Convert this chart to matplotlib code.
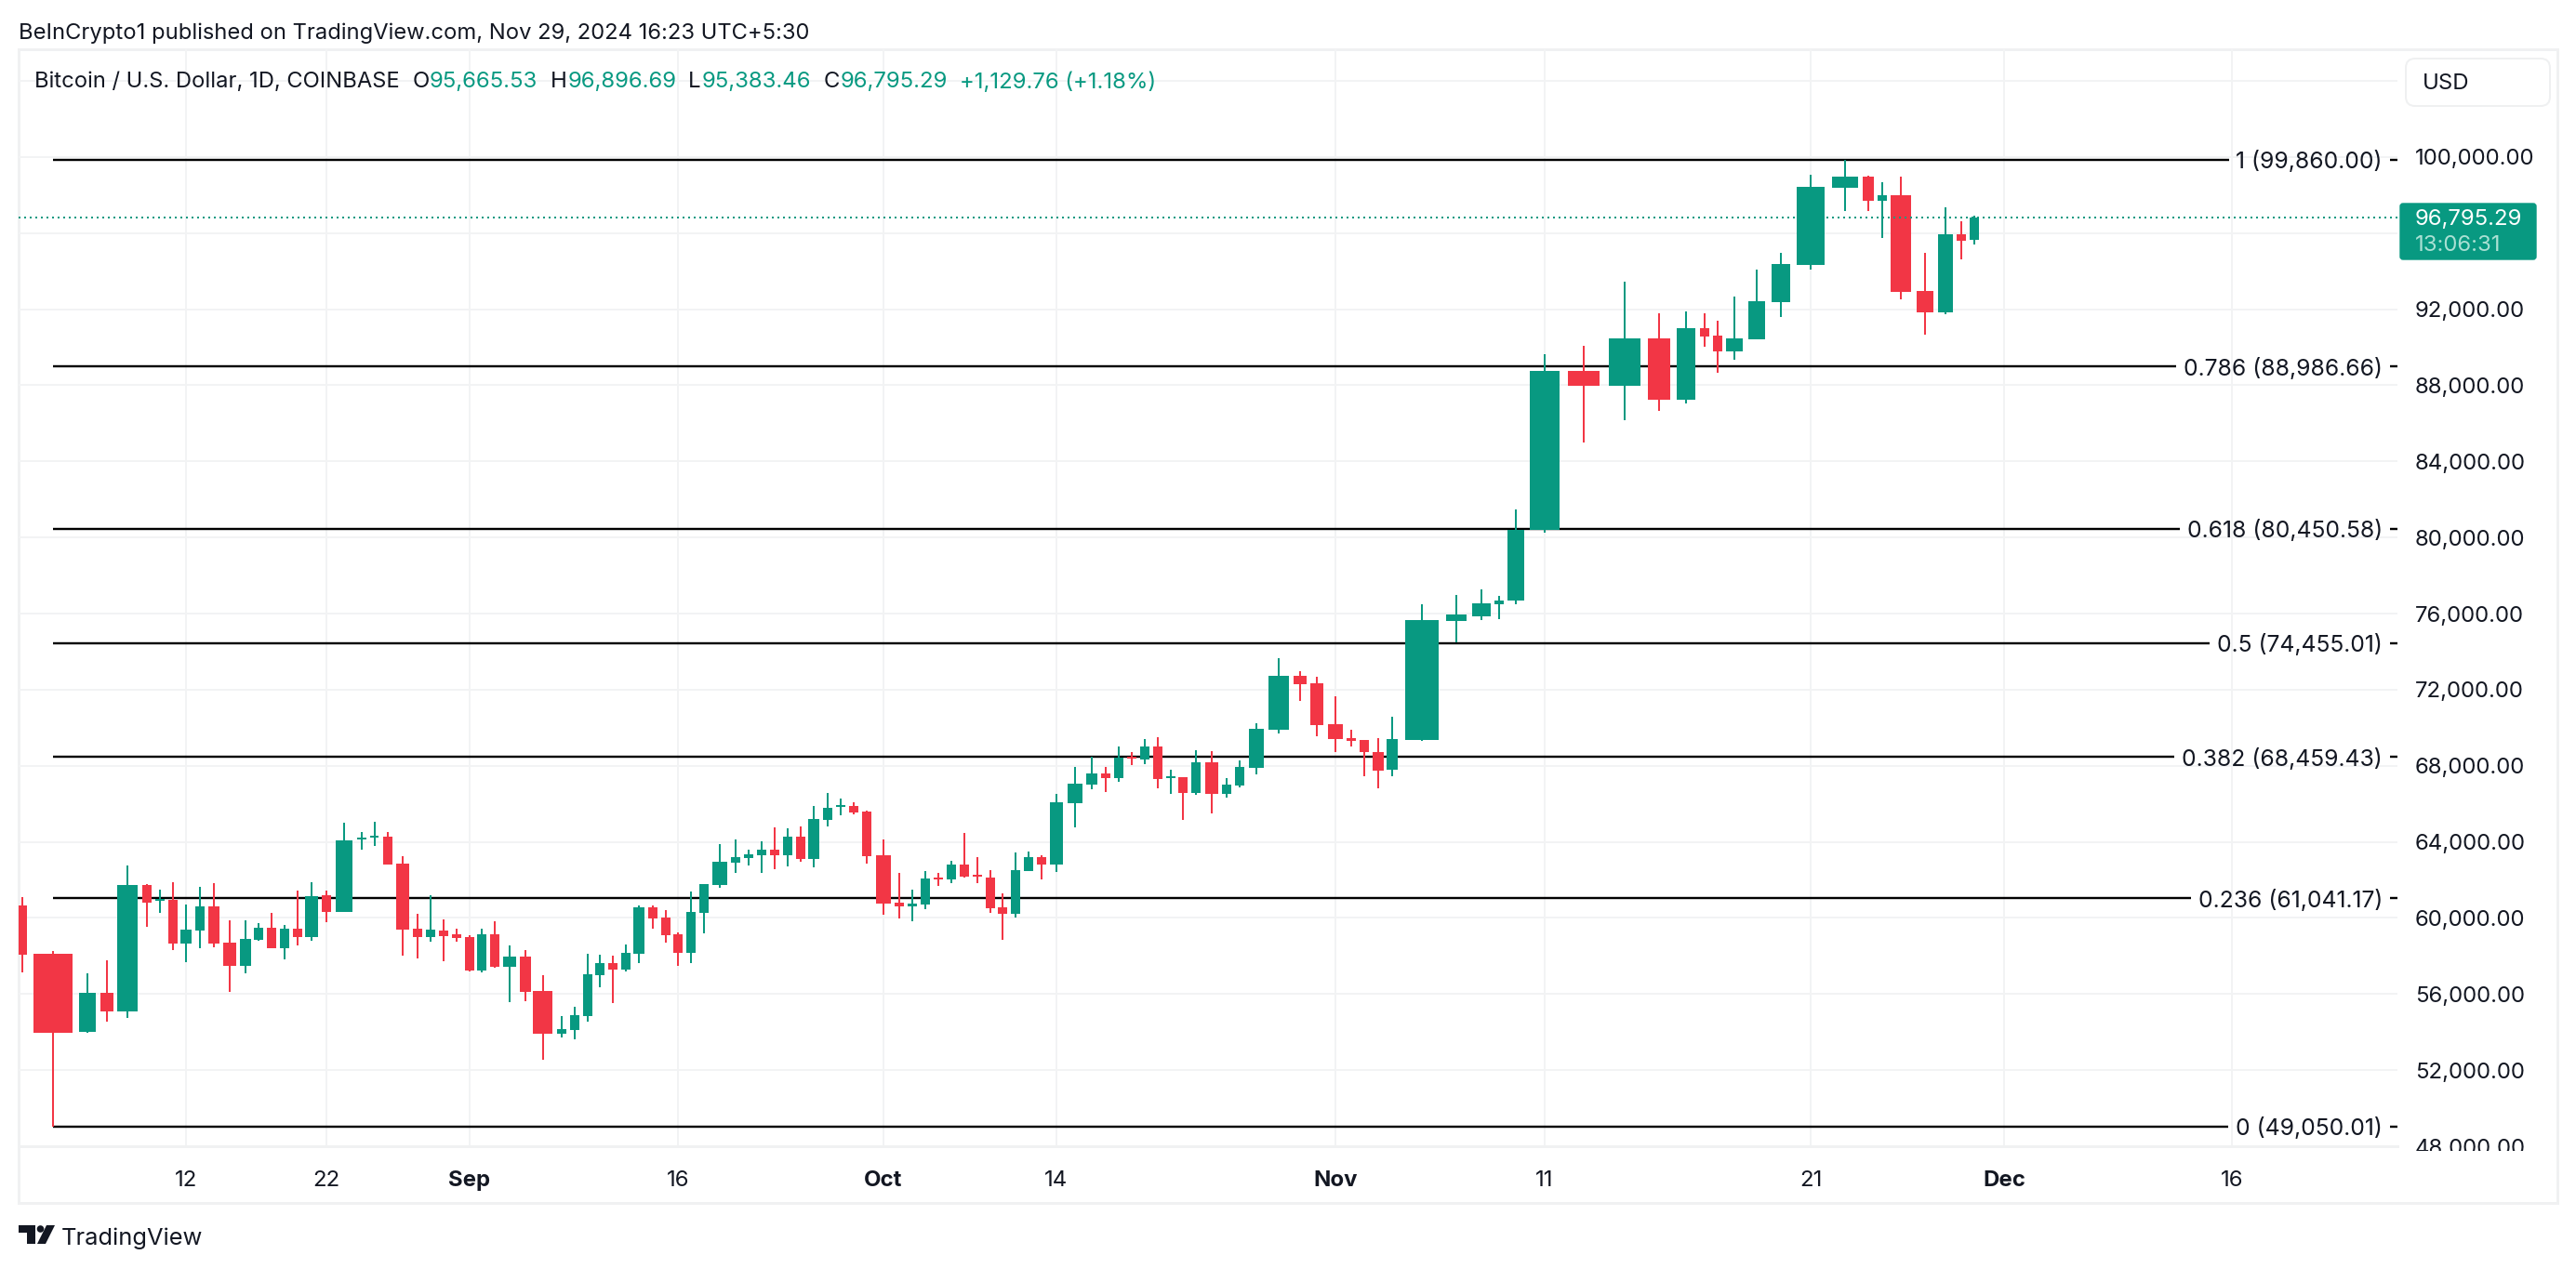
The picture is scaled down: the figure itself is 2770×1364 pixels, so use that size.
import numpy as np
import pandas as pd
import matplotlib
matplotlib.use("Agg")
import matplotlib.pyplot as plt
from matplotlib.patches import Rectangle, FancyBboxPatch, Polygon, Circle
from matplotlib.transforms import Bbox

# ---------- data ----------
start_date = "2024-08-04"
open_ = [60645,58105,54004,56055,55094,61719,60889,60937,58659,59343,60596,58691,57487,58838,59473,58415,59424,58985,61182,60303,
         64111,64209,64258,62842,59424,58985,59326,59131,58985,57227,59131,57422,57959,56152,53906,54102,54834,56983,57617,57275,
         58105,60547,60010,59131,58154,60270,61719,62891,63135,63281,63574,63281,64258,63086,65137,65820,65869,65576,63281,60791,
         60596,60693,62109,62012,62793,62256,62109,60547,60205,62451,63184,62793,66016,66992,67578,67334,68457,68311,68994,67334,
         67383,66553,68164,66504,66943,67871,69873,72705,72314,70166,69434,69336,68701,67773,69336,75586,75879,76514,76676,80387,
         88770,87988,90479,87256,91016,90625,89795,90430,92383,94336,98389,98975,97705,97998,92969,91846,95947,95665]
close = [58073,53971,56055,55094,61719,60807,60986,58659,59375,60596,58659,57487,58887,59473,58415,59424,58985,61133,60303,64063,
         64209,64307,62793,59375,58985,59375,59033,58936,57227,59131,57422,57959,56104,53906,54150,54883,57031,57617,57275,58154,
         60547,59961,59082,58154,60303,61768,62939,63184,63330,63574,63281,64258,63086,65186,65771,65918,65527,63232,60742,60596,
         60742,62061,62028,62793,62158,62158,60498,60205,62500,63184,62793,66064,67041,67578,67334,68408,68359,68994,67285,67432,
         66553,68164,66504,66992,67920,69922,72705,72266,70117,69385,69287,68701,67725,69385,75635,75928,76563,76709,80420,88770,
         87988,90479,87256,91016,90576,89795,90479,92432,94385,98438,98975,97705,97998,92920,91846,95947,95606,96795]
high = [61084,58252,57080,57764,62744,61768,61475,61865,60693,61621,61817,59863,59863,59717,60254,59619,61426,61865,61426,64990,
        64502,65039,64502,63233,60205,61182,59912,59424,59082,59424,59815,58545,58301,56983,54834,55322,58105,58057,58008,58594,
        60645,60645,60400,59229,61377,61768,63867,64111,63574,64014,64746,64697,64795,65869,66553,66260,66064,65625,64111,62354,
        61475,62451,62354,62988,64453,63184,62500,61279,63428,63477,63281,66504,67920,68457,67920,68994,68701,69385,69482,67773,
        67383,68799,68750,67334,68262,70215,73633,72949,72656,71631,69873,69336,69434,70557,76514,77002,77295,76953,81494,89648,
        90088,93457,91797,91895,91797,91406,92676,94092,94971,99072,99854,99023,98682,98975,94971,97363,96631,96897]
low = [57145,49050,53955,54541,54736,59522,60254,58317,57666,58399,58447,56104,57080,58789,58399,57813,58545,58789,59766,60303,
       63574,63770,62793,58008,57861,58740,57715,58740,57178,57129,57373,55567,55615,52539,53711,53613,54541,56348,55518,57200,
       57617,59424,58691,57471,57617,59180,61572,62354,62744,62354,62549,62695,62939,62646,64795,65381,65430,62842,60156,59961,
       59814,60449,61670,61816,62109,61816,60254,58838,60010,62451,62012,62402,64746,66748,66602,67139,68018,68066,66797,66504,
       65137,66455,65479,66309,66846,67529,69678,71387,69531,68701,68994,67432,66797,67432,69287,74463,75635,75732,76514,80273,
       85010,86182,86670,87061,90039,88672,89356,90430,91602,94092,97168,97168,95752,92529,90674,91748,94629,95383]

fib_ratios = ["1", "0.786", "0.618", "0.5", "0.382", "0.236", "0"]
fib_values = [99860.00, 88986.66, 80450.58, 74455.01, 68459.43, 61041.17, 49050.01]

price_ticks = [104000,100000,96000,92000,88000,84000,80000,76000,72000,68000,64000,60000,56000,52000,48000]
price_hidden = [104000, 96000]

time_tick_dates = ["2024-08-12","2024-08-22","2024-09-01","2024-09-16","2024-10-01","2024-10-14",
                   "2024-11-01","2024-11-11","2024-11-21","2024-12-01","2024-12-16"]
time_tick_labels = ["12","22","Sep","16","Oct","14","Nov","11","21","Dec","16"]
time_tick_bold = ["Sep","Oct","Nov","Dec"]

last_price = 96795.29
legend_ohlc = [95665.53, 96896.69, 95383.46, 96795.29]
countdown = "13:06:31"
change_text = "+1,129.76 (+1.18%)"

# ---------- layout (the reference's uneven time axis, pixels) ----------
candle_centre_px = [24.1,57.1,93.8,114.7,137.1,158,171.9,185.7,200,214.7,229.9,246.9,263.8,277.7,292,305.8,320.1,334.8,350.9,370.1,
    388.8,402.7,417,433,449.1,462.9,476.8,491.1,504.9,517.9,531.7,547.8,564.7,583.5,604,617.9,631.7,645.1,658.9,672.8,
    687,702.2,716.1,729,742.9,756.7,774.1,791.1,804.9,818.8,833,846.9,860.7,875,889.7,904,917.9,931.7,950,967,
    980.8,995.1,1008.9,1022.8,1037.1,1050.9,1064.7,1078.1,1092,1105.8,1120.1,1135.7,1156,1174,1189,1203,1217,1231,1245,1259,
    1272,1286,1303,1319,1333,1351,1375,1398,1416,1436,1453,1467,1482,1497,1529,1566,1593,1612,1630,1661,
    1703,1747,1784,1813,1833,1847,1865,1889,1915,1947,1984,2009,2024,2044,2070,2092,2109,2123]
candle_body_px = [9.8,42,18.3,13.8,22.3,9.8,9.8,10.3,11.6,10.3,12,13.8,12,9.8,9.8,10.3,9.8,13.8,9.8,17.9,
    10.3,9.4,9.8,14.3,9.8,9.8,10.3,9.8,9.8,10.3,10.3,13.8,12,20.1,9.8,10.3,10.3,9.8,9.8,10.3,
    12,9.8,9.8,9.8,10.3,10.3,16.1,9.8,9.8,10.3,9.8,9.8,10.3,11.6,10.3,9.8,10.3,10.3,16.1,9.8,
    10.3,9.8,9.8,10.3,9.8,9.8,10.3,9.8,9.8,10.3,9.8,13.8,16,12,10,10,10,10,10,10,
    10,10,14,10,10,16,22,14,14,16,10,10,12,12,36,22,20,10,18,32,
    34,34,24,20,10,10,18,18,20,30,28,12,10,22,18,16,10,10]
PANE = (20, 53, 2578, 1233)     # left, top, right, bottom in pixels
W, H = 2770, 1364
GREEN, RED = "#089981", "#F23645"
INK = "#131722"
GRID = "#F2F3F4"
FONT = "Inter"
FS = 24 * 0.72
FS_FIB = 24.7 * 0.72
FS_HEAD = 23.75 * 0.72
px = 0.72                       # line width: pixels to points at dpi 100

plt.rcParams["font.family"] = [FONT, "DejaVu Sans"]

open_, high, low, close = map(np.array, (open_, high, low, close))
dates = pd.date_range(start_date, periods=len(close), freq="D")
days = np.arange(len(dates), dtype=float)
centre = np.array(candle_centre_px)
body = np.array(candle_body_px)
HALF = 0.3
tail_days = [-10.0, len(dates) + 1.0, len(dates) + 16.0, len(dates) + 32.0]
tail_px = [-150.0, 2155.0, 2400.0, 2661.0]
knot_d = np.concatenate([[tail_days[0]], np.ravel(np.column_stack([days - HALF, days + HALF])), tail_days[1:]])
knot_p = np.concatenate([[tail_px[0]], np.ravel(np.column_stack([centre - body / 2, centre + body / 2])), tail_px[1:]])
forward = lambda d: np.interp(d, knot_d, knot_p)
inverse = lambda p: np.interp(p, knot_p, knot_d)

fig = plt.figure(figsize=(W / 100, H / 100), dpi=100, facecolor="white")

# chrome layer in pixel coordinates
bg = fig.add_axes([0, 0, 1, 1], zorder=0)
bg.set_xlim(0, W); bg.set_ylim(H, 0); bg.axis("off")
bg.add_patch(Rectangle((20, 53), 2730, 1241, fc="white", ec="#F0F1F2", lw=3 * px))

ax = fig.add_axes([PANE[0] / W, 1 - PANE[3] / H, (PANE[2] - PANE[0]) / W, (PANE[3] - PANE[1]) / H], zorder=1)
ax.patch.set_alpha(0)
ax.set_xscale("function", functions=(forward, inverse))
ax.set_ylim(100000 - (PANE[3] - 169) / 20.48 * 1000, 100000 + (169 - PANE[1]) / 20.48 * 1000)
for s in ax.spines.values():
    s.set_visible(False)
ax.spines["bottom"].set_visible(True)
ax.spines["bottom"].set_color("#F0F1F2")
ax.spines["bottom"].set_linewidth(3 * px)

up = close >= open_
colors = np.where(up, GREEN, RED)
ax.vlines(days, low, high, colors=colors, lw=2 * px, zorder=4)
ax.bar(days, np.abs(close - open_), bottom=np.minimum(open_, close), width=2 * HALF, color=colors, lw=0, zorder=4)

tick_days = [(pd.Timestamp(d) - dates[0]).days for d in time_tick_dates]
ax.set_xticks(tick_days)
ax.set_xticklabels(time_tick_labels, fontsize=FS, color=INK)
for lab in ax.get_xticklabels():
    if lab.get_text() in time_tick_bold:
        lab.set_fontweight("bold")
ax.tick_params(axis="x", length=0, pad=18.5)
ax.set_yticks(price_ticks)
ax.set_yticklabels(["" if p in price_hidden else f"{p:,.2f}" for p in price_ticks], fontsize=FS, color=INK)
ax.yaxis.tick_right()
ax.tick_params(axis="y", length=0, pad=13.5)
for lab in ax.get_yticklabels():
    lab.set_ha("left")
    lab.set_va("center_baseline")
    if lab.get_text() == "48,000.00":
        lab.set_clip_on(True)
        lab.set_clip_box(Bbox([[2585, H - 1238], [W, H - 1200]]))
ax.minorticks_off()
ax.grid(True, color=GRID, lw=2 * px, zorder=0)
ax.set_axisbelow(True)
ax.set_xlim(inverse(PANE[0]), inverse(PANE[2]))

# Fibonacci levels
fig.canvas.draw()
renderer = fig.canvas.get_renderer()
label_trans = ax.get_yaxis_transform()
text_right = (2562 - PANE[0]) / (PANE[2] - PANE[0])
dash_left = (2570 - PANE[0]) / (PANE[2] - PANE[0])
for r, v in zip(fib_ratios, fib_values):
    t = ax.text(text_right, v, f"{r} ({v:,.2f})", transform=label_trans, ha="right", va="center_baseline",
                fontsize=FS_FIB, color=INK, zorder=6)
    bb = t.get_window_extent(renderer)
    end = ax.transData.inverted().transform((bb.x0 - 8, 0))[0]
    ax.plot([days[1], end], [v, v], color="black", lw=2.4 * px, zorder=3, solid_capstyle="butt")
    ax.plot([dash_left, 1.0], [v, v], color="black", lw=2.4 * px, transform=label_trans, zorder=3,
            clip_on=False, solid_capstyle="butt")

# last price line and tag
ax.axhline(last_price, color=GREEN, lw=2 * px, ls=(0, (1, 2)), zorder=5)

over = fig.add_axes([0, 0, 1, 1], zorder=2)
over.set_xlim(0, W); over.set_ylim(H, 0); over.axis("off"); over.patch.set_alpha(0)
over.add_patch(FancyBboxPatch((2581, 219), 146, 60, boxstyle="round,pad=0,rounding_size=3", fc=GREEN, ec=GREEN, lw=1))
over.text(2597, 233, f"{last_price:,.2f}", color="white", fontsize=FS, va="center_baseline")
over.text(2597, 262, countdown, color="#A9E0D3", fontsize=FS, va="center_baseline")
over.add_patch(FancyBboxPatch((2587, 63), 155, 51, boxstyle="round,pad=0,rounding_size=10", fc="white", ec="#EFF0F1", lw=2 * px))
over.text(2605, 88, "USD", color=INK, fontsize=FS, va="center_baseline")

# header and legend
over.text(20, 33, "BeInCrypto1 published on TradingView.com, Nov 29, 2024 16:23 UTC+5:30", color=INK,
          fontsize=FS_HEAD, va="center_baseline")
over.text(37, 86, "Bitcoin / U.S. Dollar, 1D, COINBASE", color=INK, fontsize=FS_HEAD, va="center_baseline")
for letter, lx, val, vx in zip("OHLC", (444, 592, 740, 886), legend_ohlc, (462, 611, 755, 904)):
    over.text(lx, 86, letter, color=INK, fontsize=FS, va="center_baseline")
    over.text(vx, 86, f"{val:,.2f}", color=GREEN, fontsize=FS, va="center_baseline")
over.text(1032, 86, change_text, color=GREEN, fontsize=FS, va="center_baseline")

# logo
LOGO = "#131722"
over.add_patch(Polygon([(20, 1318), (38, 1318), (38, 1338), (29, 1338), (29, 1326), (20, 1326)], fc=LOGO, lw=0))
over.add_patch(Circle((43.5, 1322), 3.8, fc=LOGO, lw=0))
over.add_patch(Polygon([(50, 1318), (59, 1318), (49, 1338), (40, 1338)], fc=LOGO, lw=0))
over.text(66, 1330, "TradingView", color=LOGO, fontsize=25.5 * 0.72, va="center_baseline")

fig.savefig("out.png", dpi=100, facecolor="white")
